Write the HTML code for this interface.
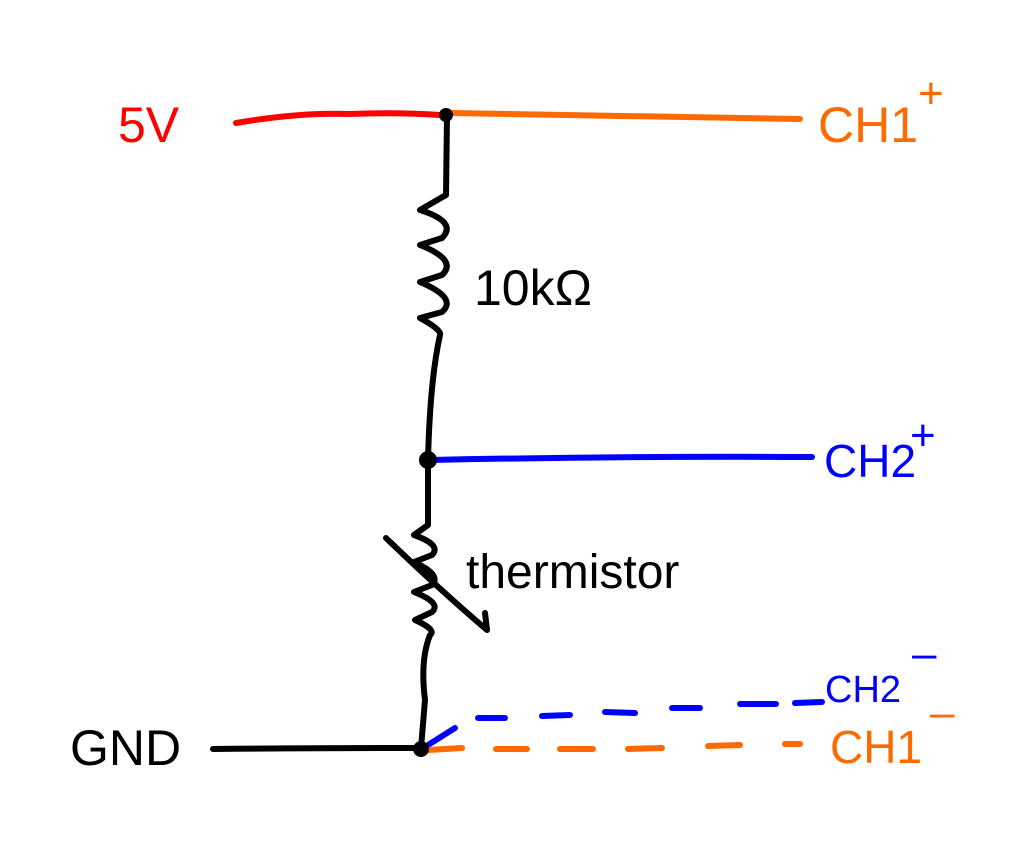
<!DOCTYPE html>
<html><head><meta charset="utf-8"><style>
html,body{margin:0;padding:0;background:#fff;width:1011px;height:854px;overflow:hidden}
svg text{font-family:"Liberation Sans",sans-serif}
</style></head><body>
<svg width="1011" height="854" viewBox="0 0 1011 854" fill="none" stroke-linecap="round" stroke-linejoin="round" stroke-width="6">
<path d="M236 123 Q300 112 350 114 Q400 112 440 115" stroke="#ff0000"/>
<path d="M450 113 Q600 116 800 119" stroke="#ff6a00"/>
<path d="M447 115 L446 195 L420 210 Q458 222 442 238 L420 245 Q458 260 442 275 L420 282 Q458 298 442 312 L420 318 Q442 330 440 335 Q430 380 428 460" stroke="#000"/>
<path d="M430 460 Q620 456 812 457" stroke="#0000ff"/>
<path d="M428 460 L428 525 L414 535 Q442 545 432 555 L414 562 Q442 575 432 585 L414 592 Q442 603 432 612 L415 620 Q437 630 430 635 Q420 660 425 700 L421 748" stroke="#000"/>
<path d="M386 538 Q440 590 487 630 L485 613" stroke="#000"/>
<path d="M213 749 Q320 748 420 748" stroke="#000"/>
<path d="M428 745 L455 728 M478 718 L505 718 M542 716 L570 715 M605 712 L635 713 M672 708 L700 708 M740 704 L776 704 M795 703 L822 702" stroke="#0000ff"/>
<path d="M428 750 L462 748 M496 749 L527 749 M560 749 L593 749 M628 749 L662 748 M708 746 L740 745 M785 744 L800 744" stroke="#ff6a00"/>
<circle cx="446" cy="115" r="7" fill="#000" stroke="none"/>
<circle cx="428" cy="460" r="9" fill="#000" stroke="none"/>
<circle cx="421" cy="749" r="8" fill="#000" stroke="none"/>
<g stroke="none">
<text x="118" y="142" font-size="50" fill="#ff0000">5V</text>
<text x="818" y="142" font-size="50" fill="#ff6a00">CH1</text>
<text x="918" y="108" font-size="44" fill="#ff6a00">+</text>
<text x="474" y="305" font-size="50" fill="#000">10kΩ</text>
<text x="824" y="477" font-size="46" fill="#0000ff">CH2</text>
<text x="910" y="450" font-size="44" fill="#0000ff">+</text>
<text x="466" y="588" font-size="48" fill="#000">thermistor</text>
<text x="825" y="702" font-size="38" fill="#0000ff">CH2</text>
<text x="912" y="668" font-size="44" fill="#0000ff">–</text>
<text x="830" y="763" font-size="46" fill="#ff6a00">CH1</text>
<text x="930" y="727" font-size="44" fill="#ff6a00">–</text>
<text x="70" y="765" font-size="50" fill="#000">GND</text>
</g>
</svg>
</body></html>
